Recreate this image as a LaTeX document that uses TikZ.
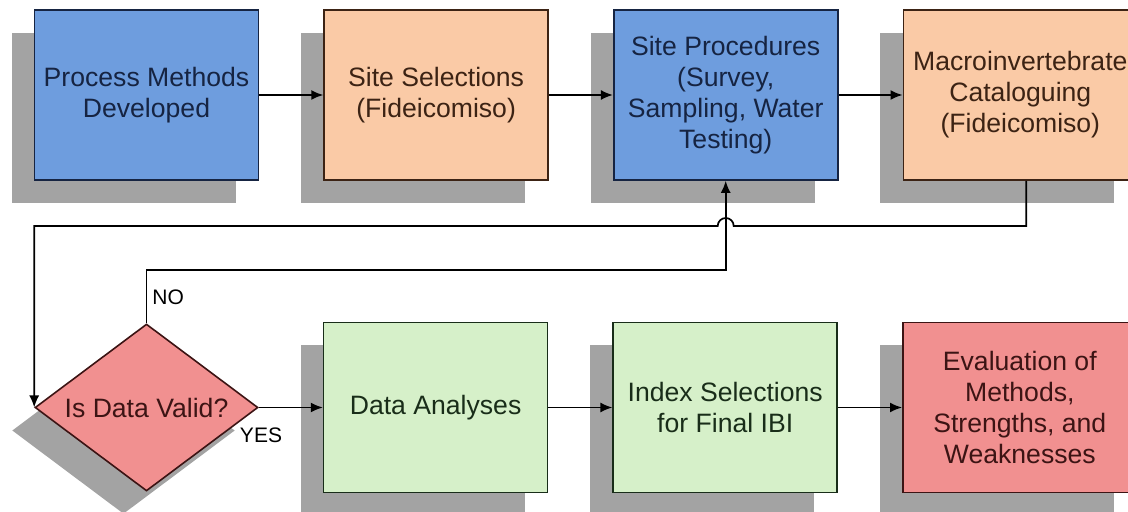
\documentclass[tikz,border=0pt]{standalone}
\usepackage{fontspec}
\setmainfont{Liberation Sans}
\usepackage{tikz}
\usetikzlibrary{positioning,shapes.geometric,shadows,arrows.meta}

\definecolor{stepblue}{RGB}{110,157,222}
\definecolor{steporange}{RGB}{250,202,166}
\definecolor{stepgreen}{RGB}{214,240,201}
\definecolor{stepred}{RGB}{241,144,144}
\definecolor{blueline}{RGB}{22,36,66}
\definecolor{orangeline}{RGB}{60,35,20}
\definecolor{greenline}{RGB}{25,45,25}
\definecolor{redline}{RGB}{60,20,20}
\definecolor{shadowgray}{RGB}{163,163,163}

\newcommand{\boxfont}{\fontsize{13.3pt}{15.5pt}\selectfont}

\tikzset{
    flow-box/.style = {rectangle, line width=0.8pt, inner sep=0pt, align=center,
        minimum width=112pt, minimum height=85pt, font=\boxfont,
        drop shadow={shadow xshift=-11.5pt, shadow yshift=-11.5pt, fill=shadowgray, opacity=1}},
    blue-box/.style = {flow-box, fill=stepblue, draw=blueline, text=blueline},
    orange-box/.style = {flow-box, fill=steporange, draw=orangeline, text=orangeline},
    green-box/.style = {flow-box, fill=stepgreen, draw=greenline, text=greenline},
    red-box/.style = {flow-box, fill=stepred, draw=redline, text=redline},
    wide/.style = {minimum width=117pt},
    decision/.style = {diamond, fill=stepred, draw=redline, text=redline, line width=0.8pt,
        inner sep=0pt, aspect=1.335, minimum width=111.5pt, minimum height=83.5pt, font=\boxfont,
        drop shadow={shadow xshift=-11.5pt, shadow yshift=-11.5pt, fill=shadowgray, opacity=1}},
    flow/.style = {line width=0.85pt, -{Latex[length=6pt,width=5pt]}},
    answer/.style = {font=\fontsize{10.5pt}{12pt}\selectfont, inner sep=1pt},
}

\begin{document}
\begin{tikzpicture}
\useasboundingbox (0,0) rectangle (564pt,-256pt);

% top row
\node [blue-box] (methods) at (73.25pt,-47.5pt) {Process Methods\\Developed};
\node [orange-box, right=32pt of methods] (sites) {Site Selections\\(Fideicomiso)};
\node [blue-box, right=32pt of sites] (proc) {Site Procedures\\(Survey,\\Sampling, Water\\Testing)};
\node [orange-box, wide, right=32pt of proc] (macro) {Macroinvertebrate\\Cataloguing\\(Fideicomiso)};

% bottom row
\node [decision] (valid) at (73.25pt,-203.75pt) {Is Data Valid?};
\node [green-box, right=32pt of valid] (analyses) {Data Analyses};
\node [green-box, right=32pt of analyses] (index) {Index Selections\\for Final IBI};
\node [red-box, wide, right=32pt of index] (eval) {Evaluation of\\Methods,\\Strengths, and\\Weaknesses};

\draw [flow] (methods) -- (sites);
\draw [flow] (sites) -- (proc);
\draw [flow] (proc) -- (macro);

% back down to the check, hopping over the retry line
\coordinate (back) at (0,-113pt);
\coordinate (hop) at (proc.south |- back);
\draw [flow] ([xshift=3pt]macro.south) |- ([xshift=4pt]hop) arc[start angle=0, end angle=180, radius=4pt] -| (valid.west);

% retry when the data is not valid
\coordinate (retry) at (0,-135pt);
\draw [flow] (valid.north) -- (valid.north |- retry) -| (proc.south);
\node [answer, anchor=west] at (75pt,-148.5pt) {NO};

\draw [flow] (valid) -- (analyses);
\node [answer] at (130.5pt,-217.5pt) {YES};
\draw [flow] (analyses) -- (index);
\draw [flow] (index) -- (eval);
\end{tikzpicture}
\end{document}
